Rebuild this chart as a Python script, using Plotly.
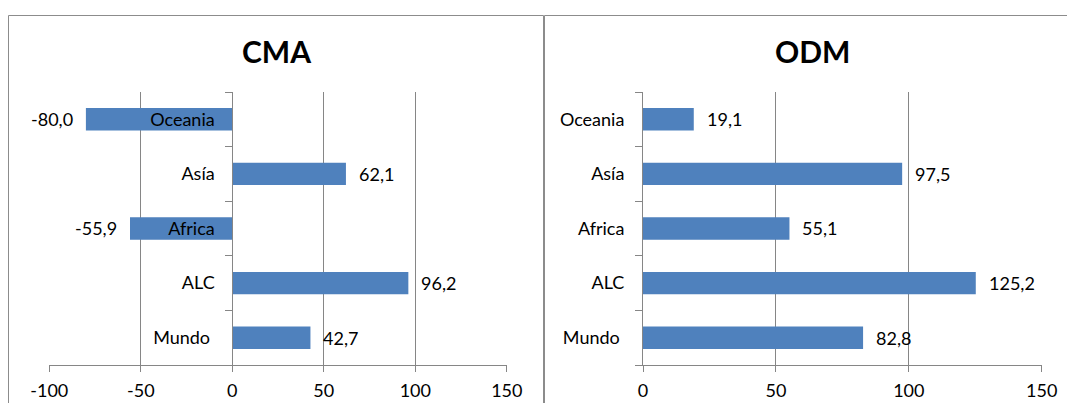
import plotly.graph_objects as go

# ---- data ----
categories = ["Mundo", "ALC", "Africa", "Asía", "Oceania"]
cat_labels = ["Mundo\u00a0", "ALC", "Africa", "Asía", "Oceania"]
cma_values = [42.7, 96.2, -55.9, 62.1, -80.0]
odm_values = [82.8, 125.2, 55.1, 97.5, 19.1]
titles = ["CMA", "ODM"]
cma_ticks = [-100, -50, 0, 50, 100, 150]
odm_ticks = [0, 50, 100, 150]

W, H = 1067, 403
BAR = "#4F81BD"
GRID = "#868686"
FONT = "Lato"
FS = 18

def px_x(p):
    return p / W

def px_y(p):
    return 1 - p / H

fmt = lambda v: f"{v:.1f}".replace(".", ",")

fig = go.Figure()
fig.add_trace(go.Bar(x=cma_values, y=categories, orientation="h", marker=dict(color=BAR, line=dict(width=0)),
                     width=0.41, xaxis="x", yaxis="y", hoverinfo="skip"))
fig.add_trace(go.Bar(x=odm_values, y=categories, orientation="h", marker=dict(color=BAR, line=dict(width=0)),
                     width=0.41, xaxis="x2", yaxis="y2", hoverinfo="skip"))

dom1 = [px_x(49.3), px_x(506.8)]
dom2 = [px_x(643.0), px_x(1041.7)]
ydom = [px_y(365), px_y(92)]
zero1 = dom1[0] + (0 - cma_ticks[0]) / (cma_ticks[-1] - cma_ticks[0]) * (dom1[1] - dom1[0])

tickfont = dict(family=FONT, size=FS, color="#000")

xcommon = dict(showgrid=True, gridcolor=GRID, gridwidth=1, zeroline=False, ticks="outside", ticklen=6,
               tickcolor=GRID, showline=True, linecolor=GRID, linewidth=1, tickfont=tickfont,
               ticklabelstandoff=3, automargin=False, fixedrange=True)
ycommon = dict(type="category", categoryorder="array", categoryarray=categories, range=[-0.5, 4.5],
               showgrid=False, zeroline=False, showline=True, linecolor=GRID, linewidth=1,
               ticks="outside", ticklen=7, tickcolor=GRID, tickson="boundaries",
               tickmode="array", tickvals=categories, ticktext=cat_labels, ticklabelstandoff=14,
               tickfont=tickfont, automargin=False, domain=ydom, fixedrange=True)

fig.update_layout(
    width=W, height=H, margin=dict(l=0, r=0, t=0, b=0),
    paper_bgcolor="white", plot_bgcolor="rgba(0,0,0,0)", showlegend=False,
    xaxis=dict(domain=dom1, range=[cma_ticks[0], cma_ticks[-1]], tickvals=cma_ticks,
               ticktext=[str(t) for t in cma_ticks], anchor="y", **xcommon),
    xaxis2=dict(domain=dom2, range=[odm_ticks[0], odm_ticks[-1]], tickvals=odm_ticks,
                ticktext=[str(t) for t in odm_ticks], anchor="y2", **xcommon),
    yaxis=dict(anchor="free", position=zero1, **ycommon),
    yaxis2=dict(anchor="x2", **ycommon),
)

annotations = []
for vals, xr, yr in [(cma_values, "x", "y"), (odm_values, "x2", "y2")]:
    for c, v in zip(categories, vals):
        annotations.append(dict(x=v, y=c, xref=xr, yref=yr, text=fmt(v), showarrow=False,
                                xanchor="left" if v >= 0 else "right", xshift=11 if v >= 0 else -11,
                                font=dict(family=FONT, size=FS, color="#000")))
for t, cx in zip(titles, [276.4, 812.0]):
    annotations.append(dict(x=px_x(cx), y=px_y(51), xref="paper", yref="paper", text=f"<b>{t}</b>",
                            showarrow=False, xanchor="center", yanchor="middle",
                            font=dict(family=FONT, size=30, color="#000")))
fig.update_layout(annotations=annotations)

border = "#8C8C8C"
fig.update_layout(shapes=[
    dict(type="rect", xref="paper", yref="paper", x0=px_x(8.5), x1=px_x(543.5), y0=px_y(420), y1=px_y(15.5),
         line=dict(color=border, width=1)),
    dict(type="rect", xref="paper", yref="paper", x0=px_x(544.5), x1=px_x(1090), y0=px_y(420), y1=px_y(15.5),
         line=dict(color=border, width=1)),
])

fig.write_html("out.html", config={"displayModeBar": False})
